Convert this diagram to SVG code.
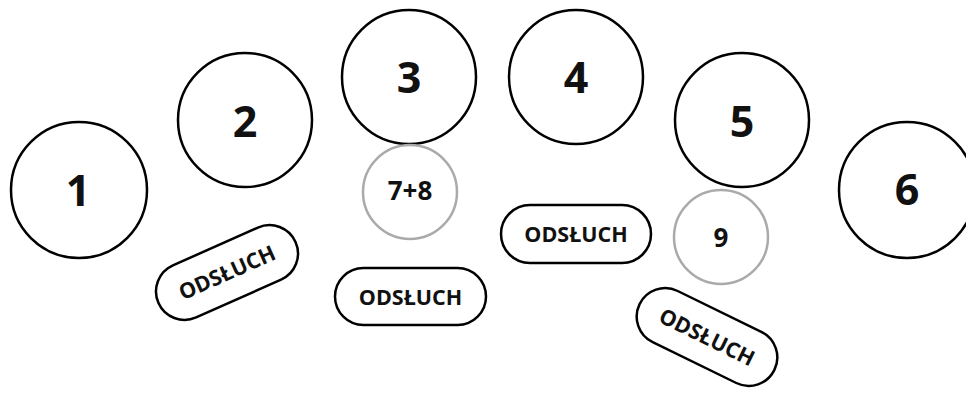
<svg xmlns="http://www.w3.org/2000/svg" width="966" height="394" viewBox="0 0 966 394">
<style>
.big{fill:#fff;stroke:#000;stroke-width:2.5}
.small{fill:#fff;stroke:#aaa;stroke-width:2.5}
.pill{fill:#fff;stroke:#000;stroke-width:2.5}
text{font-family:"Open Sans","Noto Sans",sans-serif;font-weight:bold;fill:#111;text-anchor:middle}
.n{font-size:43px}
.s{font-size:26px}
.p{font-size:21.5px}
</style>
<rect width="966" height="394" fill="#fff"/>
<g id="connectors"></g>
<g id="n1"><circle class="big" cx="79" cy="190" r="68"/><text class="n" x="78" y="205.5">1</text></g>
<g id="n2"><circle class="big" cx="245" cy="120" r="67"/><text class="n" x="245" y="136.5">2</text></g>
<g id="n3"><circle class="big" cx="409" cy="77" r="67"/><text class="n" x="409" y="92.5">3</text></g>
<g id="n4"><circle class="big" cx="576" cy="77" r="67"/><text class="n" x="576" y="92.5">4</text></g>
<g id="n5"><circle class="big" cx="742" cy="120" r="67"/><text class="n" x="742" y="136.5">5</text></g>
<g id="n6"><circle class="big" cx="907" cy="190" r="68"/><text class="n" x="907" y="204.5">6</text></g>
<g id="n78"><circle class="small" cx="410" cy="192" r="47"/><text class="s" x="410" y="199.5">7+8</text></g>
<g id="n9"><circle class="small" cx="721" cy="237" r="47"/><text class="s" x="721" y="246.5">9</text></g>
<g id="p1" transform="translate(227 272.5) rotate(-24)"><rect class="pill" x="-75" y="-28.5" width="150" height="57" rx="28.5"/><text class="p" x="0" y="7.7">ODSŁUCH</text></g>
<g id="p2"><rect class="pill" x="335" y="268" width="151" height="57" rx="28.5"/><text class="p" x="410.5" y="304.7">ODSŁUCH</text></g>
<g id="p3"><rect class="pill" x="501" y="205" width="150" height="58" rx="29"/><text class="p" x="576" y="242.2">ODSŁUCH</text></g>
<g id="p4" transform="translate(707 337) rotate(26)"><rect class="pill" x="-75" y="-28.5" width="150" height="57" rx="28.5"/><text class="p" x="0" y="7.7">ODSŁUCH</text></g>
</svg>
